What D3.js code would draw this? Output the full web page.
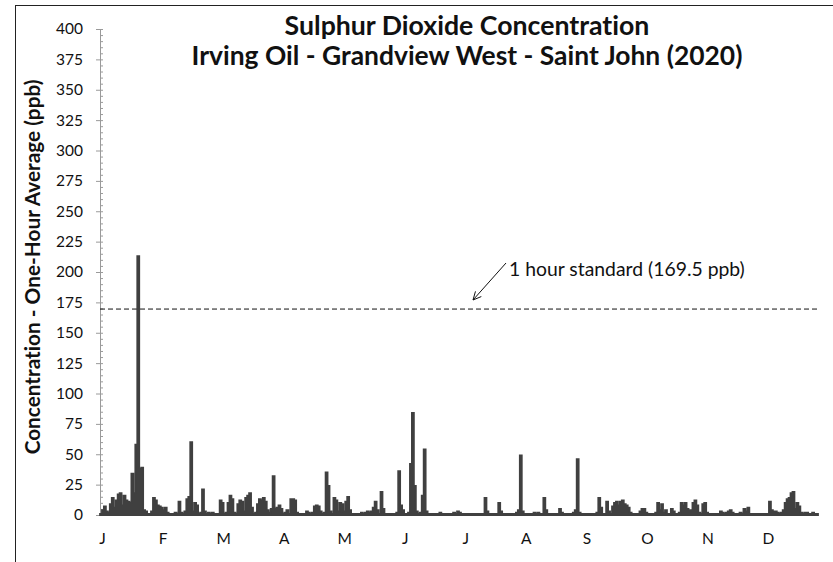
<!DOCTYPE html>
<html><head><meta charset="utf-8">
<script src="https://cdn.jsdelivr.net/npm/d3@7"></script>
<style>body{margin:0;background:#fff} text{font-family:Lato,"Open Sans",sans-serif;fill:#111;font-variant-ligatures:none;font-feature-settings:"liga" 0}</style>
</head><body><svg id="c" width="833" height="562"></svg>
<script>
// Month tick labels
const monthLabels = ["J","F","M","A","M","J","J","A","S","O","N","D"];
// Daily peak one-hour SO2 (ppb), 2020
const jan = [1,4,7,3,2,9,14,6,12,17,18,8,16,12,11,10,34,18,58,213,38,39,4,3,1,1,3,14,12,8,7];
const feb = [6,4,6,2,1,1,1,2,1,11,2,1,3,13,15,60,3,10,8,1,2,21,3,1,2,1,2,1,1];
const mar = [1,12,10,1,2,10,16,13,2,1,9,12,11,3,14,16,18,6,1,2,9,13,12,14,11,4,2,5,32,5,6];
const apr = [8,5,1,2,4,1,13,13,12,2,1,1,1,1,3,2,1,2,7,8,7,3,1,2,35,24,3,1,14,12];
const may = [3,10,9,3,11,15,4,1,1,1,1,1,2,1,2,3,2,3,6,11,4,1,19,5,1,1,1,1,1,1,2];
const jun = [36,8,4,1,1,2,42,84,24,3,1,2,16,54,3,1,1,1,1,1,1,2,1,1,1,1,1,1,2,1];
const jul = [3,2,1,1,1,1,1,1,1,1,1,1,1,1,14,3,1,1,1,1,1,10,3,1,1,1,1,1,1,1,2];
const aug = [4,49,3,1,1,1,1,1,2,1,2,1,1,14,4,1,1,1,1,1,1,5,2,1,1,1,1,1,2,4,46];
const sep = [2,1,1,1,1,1,1,1,1,2,14,6,1,1,11,3,1,7,10,11,8,11,12,9,8,6,2,1,1,1];
const oct = [1,3,5,5,2,1,1,1,1,2,10,4,9,2,4,1,1,5,3,1,1,2,10,8,10,5,4,4,10,12,8];
const nov = [2,1,9,10,2,1,1,1,1,1,1,3,2,1,2,3,4,2,1,1,1,2,1,5,3,6,1,1,1,1];
const dec = [1,1,1,1,1,1,11,4,3,3,2,1,2,4,10,13,14,18,19,5,10,7,2,1,2,2,1,1,2,1,1];
const yTickValues = d3.range(0, 401, 25);
const standardValue = 169.5;
const titleLines = ["Sulphur Dioxide Concentration", "Irving Oil - Grandview West - Saint John (2020)"];
const yTitle = "Concentration - One-Hour Average (ppb)";
const annotation = "1 hour standard (169.5 ppb)";

const values = [].concat(jan, feb, mar, apr, may, jun, jul, aug, sep, oct, nov, dec);
const series = values.map((v, i) => [i, v]).concat([[values.length, values[values.length - 1]]]);

const svg = d3.select("#c");
svg.append("rect").attr("x", 15.5).attr("y", 5.5).attr("width", 830).attr("height", 570)
  .attr("fill", "none").attr("stroke", "#222").attr("stroke-width", 1);

const x = d3.scaleLinear().domain([0, values.length]).range([100, 818]);
const y = d3.scaleLinear().domain([0, 400]).range([515, 29]);
const xm = d3.scalePoint().domain(d3.range(12)).range([102, 768]);

function fit(sel, target) {
  const w = sel.node().getComputedTextLength();
  const fs = parseFloat(sel.attr("font-size"));
  sel.attr("font-size", fs * target / w);
}

// y axis: minor ticks
const gMinor = svg.append("g").attr("transform", "translate(100,0)")
  .call(d3.axisRight(y).tickValues(d3.range(0, 401, 5)).tickSize(3).tickFormat(""));
gMinor.selectAll("line").attr("stroke", "#9a9a9a");
gMinor.select(".domain").remove();
// y axis: major
const gy = svg.append("g").attr("transform", "translate(100,0)")
  .call(d3.axisLeft(y).tickValues(yTickValues).tickSize(4).tickPadding(13).tickSizeOuter(0));
gy.select(".domain").attr("stroke", "#9a9a9a");
gy.selectAll("line").attr("stroke", "#9a9a9a");
gy.selectAll("text").attr("font-size", 15.5).attr("font-family", "'Open Sans', sans-serif").attr("fill", "#111");

// x labels
const gx = svg.append("g").attr("transform", "translate(0,515)")
  .call(d3.axisBottom(xm).tickSize(0).tickPadding(18).tickFormat(i => monthLabels[i]));
gx.select(".domain").remove();
gx.selectAll("text").attr("font-size", 15.5).attr("font-family", "'Open Sans', sans-serif").attr("fill", "#111");

// standard line
svg.append("line").attr("x1", 100).attr("x2", 820)
  .attr("y1", y(standardValue)).attr("y2", y(standardValue))
  .attr("stroke", "#111").attr("stroke-width", 1).attr("stroke-dasharray", "5,3");

// data (dense hourly trace rendered as a filled step trace)
svg.append("path").datum(series)
  .attr("d", d3.area().x(d => x(d[0])).y0(y(0)).y1(d => y(d[1])).curve(d3.curveStepAfter))
  .attr("fill", "#404040").attr("stroke", "#404040").attr("stroke-width", 1.8).attr("stroke-linejoin", "miter");

// titles
const t1 = svg.append("text").attr("x", 467).attr("y", 35).attr("text-anchor", "middle")
  .attr("font-weight", "bold").attr("font-size", 20).text(titleLines[0]);
fit(t1, 365);
const t2 = svg.append("text").attr("x", 467).attr("y", 65).attr("text-anchor", "middle")
  .attr("font-weight", "bold").attr("font-size", 20).text(titleLines[1]);
fit(t2, 551);

const yt = svg.append("text").attr("transform", "translate(40,267) rotate(-90)")
  .attr("text-anchor", "middle").attr("font-weight", "bold").attr("font-size", 16).text(yTitle);
fit(yt, 375);

// annotation
const an = svg.append("text").attr("x", 509).attr("y", 276).attr("font-size", 15).text(annotation);
fit(an, 236);
const ax1 = 506, ay1 = 263, ax2 = 473, ay2 = 300;
svg.append("line").attr("x1", ax1).attr("y1", ay1).attr("x2", ax2).attr("y2", ay2)
  .attr("stroke", "#111").attr("stroke-width", 1);
const ang = Math.atan2(ay1 - ay2, ax1 - ax2);
[0.45, -0.45].forEach(da => {
  svg.append("line").attr("x1", ax2).attr("y1", ay2)
    .attr("x2", ax2 + 9 * Math.cos(ang + da)).attr("y2", ay2 + 9 * Math.sin(ang + da))
    .attr("stroke", "#111").attr("stroke-width", 1);
});
</script></body></html>
